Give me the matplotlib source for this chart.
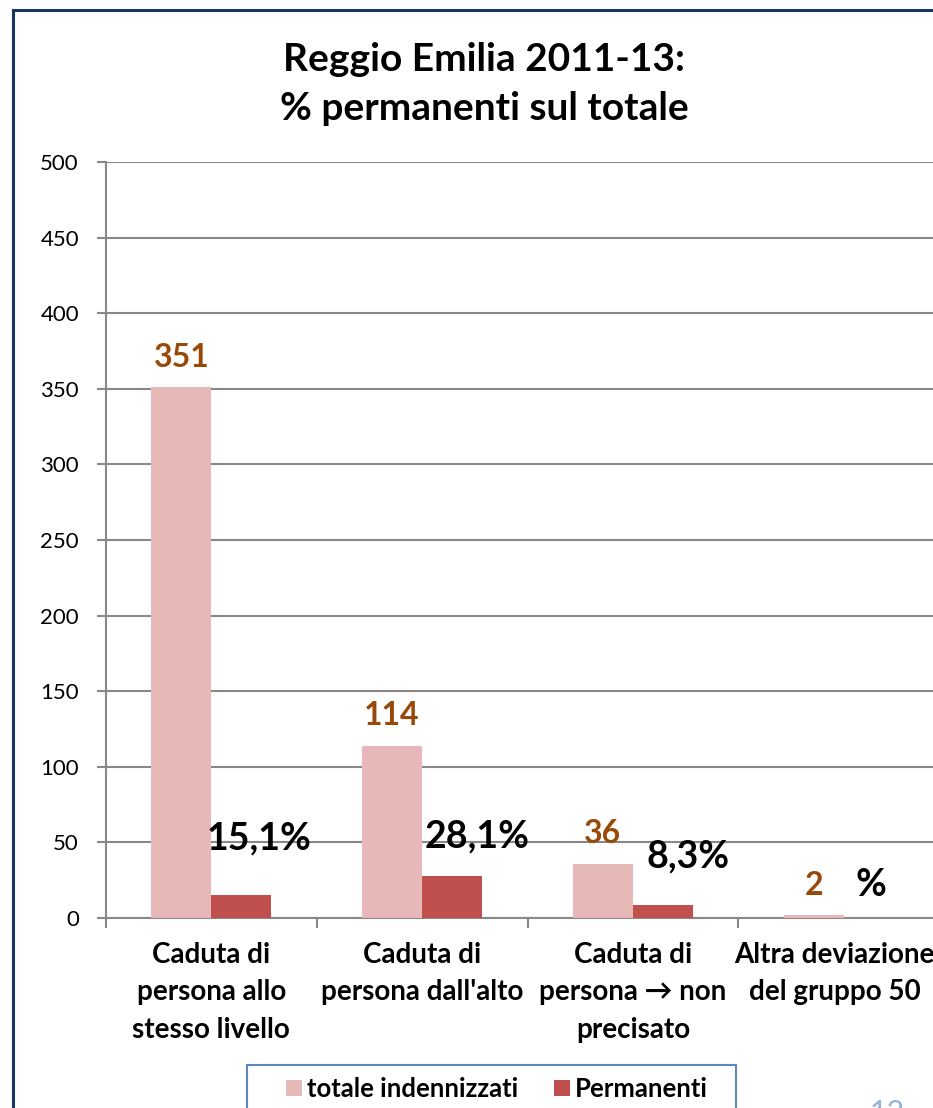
import matplotlib
matplotlib.use("Agg")
import matplotlib.pyplot as plt
from matplotlib.lines import Line2D
from matplotlib.patches import Rectangle, Patch


CATEGORIES = [
    "Caduta di\npersona allo\nstesso livello",
    "Caduta di\npersona dall'alto",
    "Caduta di\npersona \u2192 non\nprecisato",
    "Altra deviazione\ndel gruppo 50",
]
TOTALE = [351, 114, 36, 2]
PERMANENTI = [15.1, 28.1, 8.3, 0]
PERC_LABELS = ["15,1%", "28,1%", "8,3%", "%"]
Y_TICKS = list(range(0, 501, 50))
LEGEND_LABELS = ["totale indennizzati", "Permanenti"]
TITLE = "Reggio Emilia 2011-13:\n% permanenti sul totale"
PAGE_NO = "12"

# hand-placed offsets (points) of the labels, as in the original
PERC_OFFSETS = [(13, 41), (18, 28), (18, 35), (-2, 24)]
CAT_SHIFT = [0, 0, 0, -6.5]  # last label pushed left to stay inside the chart

COL_TOT = "#E6B9B8"
COL_PERM = "#C0504D"
COL_NUM = "#984807"
COL_GRID = "#888888"
COL_FRAME = "#17375E"
COL_LEG = "#5B87C5"
COL_PAGE = "#95B3D7"

plt.rcParams["font.family"] = ["Lato", "DejaVu Sans"]

W_PX, H_PX = 933, 1108
BAR_W = 60 / 211


def fx(px):
    return px / W_PX


def fy(py):
    return 1 - py / H_PX


def main():
    fig = plt.figure(figsize=(W_PX / 100, H_PX / 100), dpi=100)
    ax = fig.add_axes([fx(106), fy(918), fx(949) - fx(106), fy(162) - fy(918)])

    idx = list(range(len(CATEGORIES)))
    x_tot = [i - BAR_W / 2 for i in idx]
    x_perm = [i + BAR_W / 2 for i in idx]

    ax.bar(x_tot, TOTALE, width=BAR_W, color=COL_TOT, zorder=3)
    ax.bar(x_perm, PERMANENTI, width=BAR_W, color=COL_PERM, zorder=3)

    for x, v in zip(x_tot, TOTALE):
        ax.annotate(str(v), xy=(x, v), xytext=(0, 21.5), textcoords="offset points",
                    ha="center", va="center", fontsize=23, fontweight="bold",
                    color=COL_NUM, zorder=5)

    for x, v, lab, off in zip(x_perm, PERMANENTI, PERC_LABELS, PERC_OFFSETS):
        ax.annotate(lab, xy=(x, v), xytext=off, textcoords="offset points",
                    ha="center", va="center", fontsize=27, fontweight="bold",
                    color="black", zorder=5)

    ax.set_xlim(-0.5, len(CATEGORIES) - 0.5)
    ax.set_ylim(0, 500)
    ax.set_yticks(Y_TICKS)
    ax.yaxis.grid(True, color=COL_GRID, lw=1.5, zorder=0)

    ax.set_xticks([i - 0.5 for i in range(len(CATEGORIES) + 1)])
    ax.set_xticklabels([])
    ax.tick_params(axis="x", which="major", direction="out", length=7,
                   width=1.5, color=COL_GRID)
    ax.tick_params(axis="y", direction="out", length=6.5, width=1.5,
                   color=COL_GRID, labelsize=16, pad=13)

    for i, (cat, dx) in enumerate(zip(CATEGORIES, CAT_SHIFT)):
        ax.annotate(cat, xy=(i, 0), xycoords=("data", "axes fraction"),
                    xytext=(dx, -17), textcoords="offset points",
                    ha="center", va="top", multialignment="center",
                    fontsize=20, fontweight="bold", linespacing=1.55,
                    annotation_clip=False)

    for s in ("top", "right"):
        ax.spines[s].set_visible(False)
    for s in ("left", "bottom"):
        ax.spines[s].set_color(COL_GRID)
        ax.spines[s].set_linewidth(1.5)
    ax.set_axisbelow(True)

    fig.text(fx(484), fy(84), TITLE, ha="center", va="center", fontsize=28,
             fontweight="bold", linespacing=1.5)

    # outer frame of the slide chart
    fig.add_artist(Line2D([fx(13), fx(13)], [0, fy(10)], transform=fig.transFigure,
                          color=COL_FRAME, lw=2.2))
    fig.add_artist(Line2D([fx(13), 1], [fy(10), fy(10)], transform=fig.transFigure,
                          color=COL_FRAME, lw=2.2))

    # legend box
    fig.add_artist(Rectangle((fx(247), -0.02), fx(736) - fx(247), fy(1065) + 0.02,
                             transform=fig.transFigure, fill=False,
                             edgecolor=COL_LEG, lw=1.5))
    handles = [Patch(facecolor=COL_TOT), Patch(facecolor=COL_PERM)]
    fig.legend(handles, LEGEND_LABELS, loc="center", bbox_to_anchor=(fx(497), fy(1089)),
               ncol=2, frameon=False, prop={"size": 18.5, "weight": "bold"},
               handlelength=0.62, handleheight=0.62, handletextpad=0.2,
               columnspacing=1.4)

    fig.text(fx(887), fy(1122), PAGE_NO, ha="center", va="baseline",
             fontsize=22, color=COL_PAGE)

    fig.savefig("out.png", dpi=100)


if __name__ == "__main__":
    main()
